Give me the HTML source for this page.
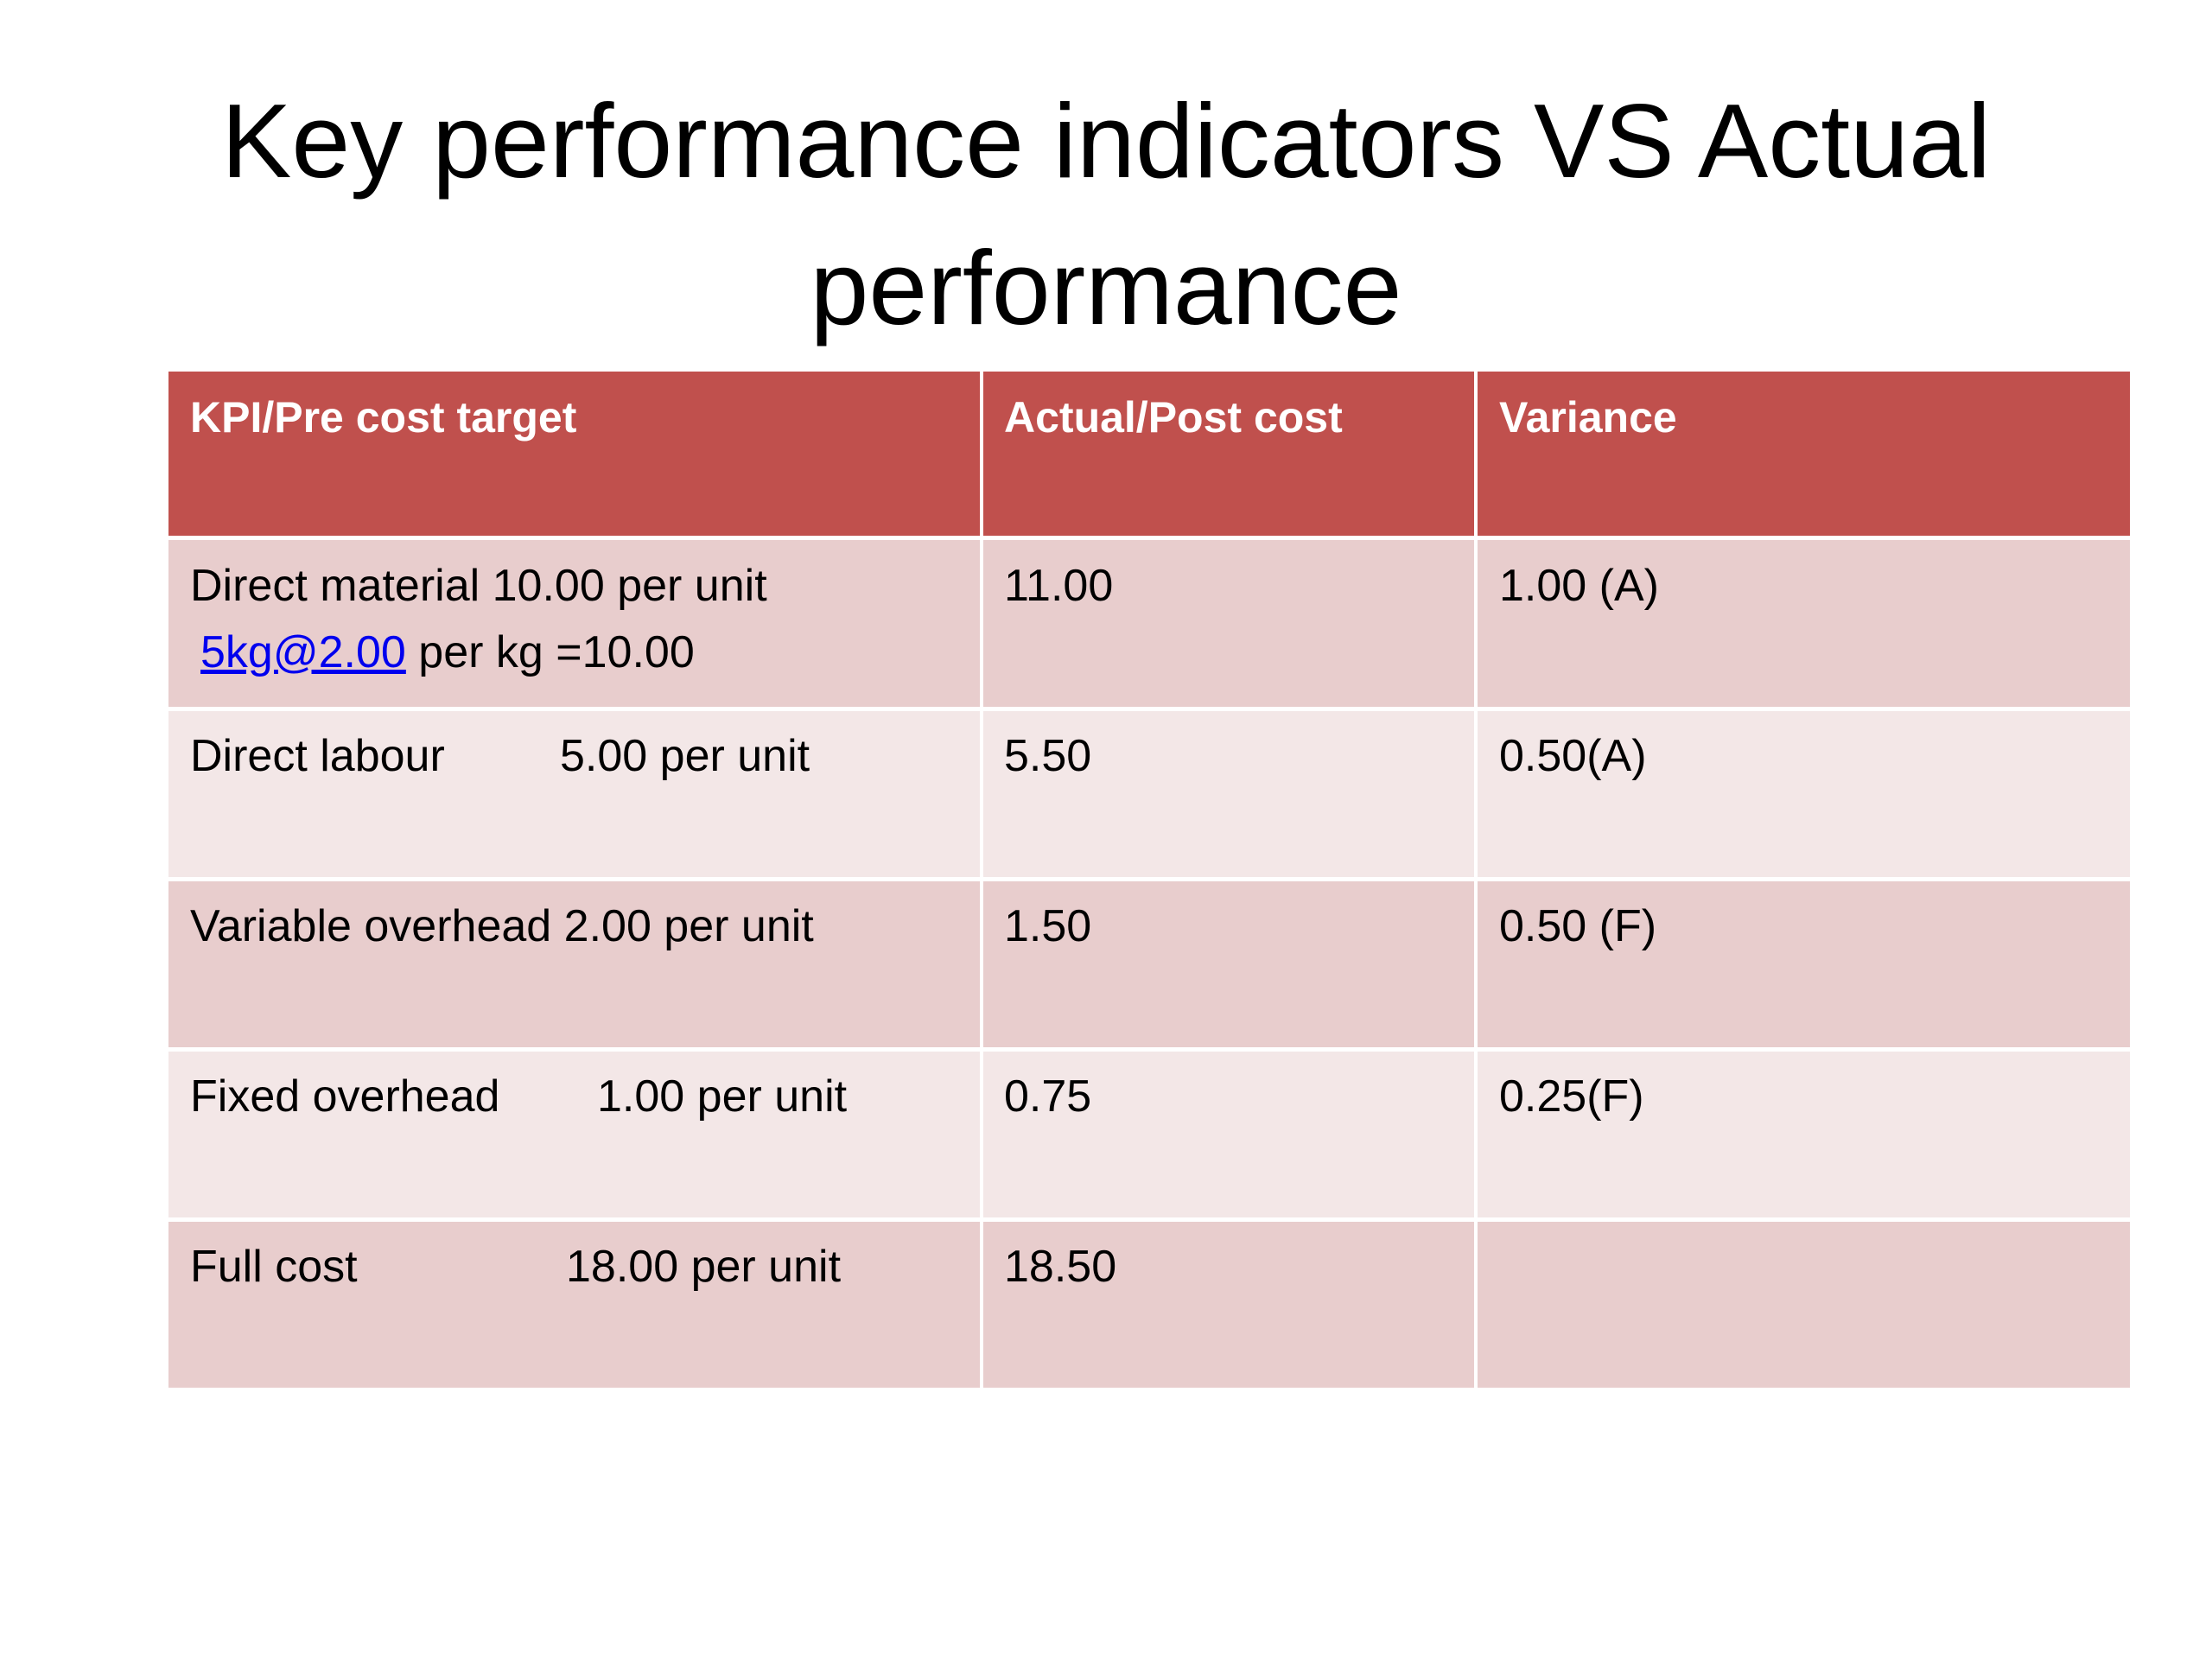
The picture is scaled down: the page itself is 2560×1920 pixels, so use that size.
<!DOCTYPE html>
<html><head><meta charset="utf-8"><style>
body{margin:0;width:2560px;height:1920px;background:#fff;position:relative;overflow:hidden;font-family:"Liberation Sans",sans-serif}
.t{position:absolute;left:0;width:2560px;text-align:center;font-size:122px;color:#000;line-height:1}
.c{position:absolute;box-sizing:border-box}
.tx{position:absolute;font-size:52px;color:#000;white-space:nowrap;line-height:1}
.h{color:#fff;font-weight:bold;font-size:50px}
a{color:#0000ee;text-decoration:underline}
</style></head><body>
<div class="t" style="top:102px">Key performance indicators VS Actual</div>
<div class="t" style="top:272px">performance</div>
<div>
<div class="c" style="left:195px;top:430px;width:2270px;height:190px;background:#C0504D"></div>
<div class="c" style="left:195px;top:625px;width:2270px;height:193px;background:#E8CDCD"></div>
<div class="c" style="left:195px;top:823px;width:2270px;height:192px;background:#F3E7E7"></div>
<div class="c" style="left:195px;top:1020px;width:2270px;height:192px;background:#E8CDCD"></div>
<div class="c" style="left:195px;top:1217px;width:2270px;height:192px;background:#F3E7E7"></div>
<div class="c" style="left:195px;top:1414px;width:2270px;height:192px;background:#E8CDCD"></div>
<div class="c" style="left:1134px;top:430px;width:4px;height:1176px;background:#fff"></div>
<div class="c" style="left:1706px;top:430px;width:4px;height:1176px;background:#fff"></div>

<div class="tx h" style="left:220px;top:458px">KPI/Pre cost target</div>
<div class="tx h" style="left:1162px;top:458px">Actual/Post cost</div>
<div class="tx h" style="left:1735px;top:458px">Variance</div>

<div class="tx" style="left:220px;top:652px">Direct material 10.00 per unit</div>
<div class="tx" style="left:232px;top:729px"><a>5kg@2.00</a> per kg =10.00</div>
<div class="tx" style="left:1162px;top:652px">11.00</div>
<div class="tx" style="left:1735px;top:652px">1.00 (A)</div>

<div class="tx" style="left:220px;top:849px">Direct labour</div>
<div class="tx" style="left:648px;top:849px">5.00 per unit</div>
<div class="tx" style="left:1162px;top:849px">5.50</div>
<div class="tx" style="left:1735px;top:849px">0.50(A)</div>

<div class="tx" style="left:220px;top:1046px">Variable overhead 2.00 per unit</div>
<div class="tx" style="left:1162px;top:1046px">1.50</div>
<div class="tx" style="left:1735px;top:1046px">0.50 (F)</div>

<div class="tx" style="left:220px;top:1243px">Fixed overhead</div>
<div class="tx" style="left:691px;top:1243px">1.00 per unit</div>
<div class="tx" style="left:1162px;top:1243px">0.75</div>
<div class="tx" style="left:1735px;top:1243px">0.25(F)</div>

<div class="tx" style="left:220px;top:1440px">Full cost</div>
<div class="tx" style="left:655px;top:1440px">18.00 per unit</div>
<div class="tx" style="left:1162px;top:1440px">18.50</div>
</div>
</body></html>
